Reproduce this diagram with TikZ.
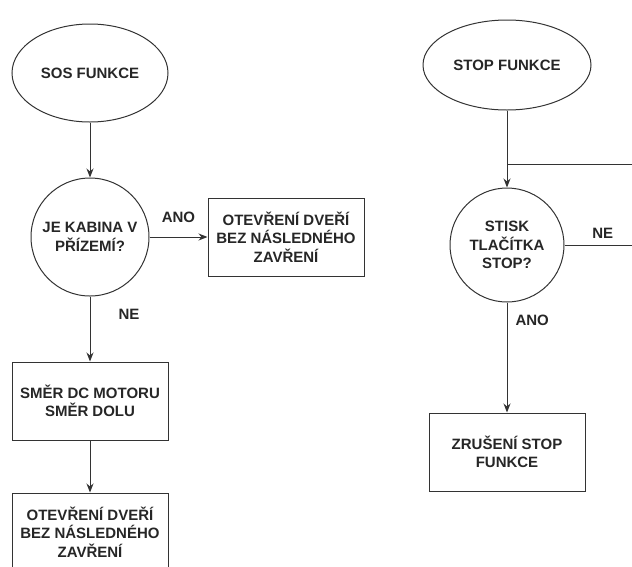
\documentclass[tikz,border=0pt]{standalone}
\usepackage{fontspec}
\setmainfont{Liberation Sans}
\usetikzlibrary{shapes.geometric, arrows.meta, positioning}

\begin{document}
\begin{tikzpicture}[
    x=1pt, y=1pt,
    node distance=50pt,
    every node/.style={font=\fontsize{15}{18.5}\selectfont\bfseries, text=black!85, align=center},
    start/.style={ellipse, draw, minimum width=156pt, minimum height=98pt, inner sep=0pt},
    decision/.style={circle, draw, minimum size=118pt, inner sep=0pt},
    box/.style={rectangle, draw, minimum width=156pt, minimum height=78pt, inner sep=0pt},
    lbl/.style={inner sep=0pt},
    arrow/.style={-{Stealth[length=9pt,width=7pt]}},
    line width=1pt, draw=black!80
  ]
    \useasboundingbox (0,0) rectangle (632,-566);
    % SOS
    \node[start] (sos) at (90,-73) {SOS FUNKCE};
    \node[decision, below=55pt of sos] (kabina) {JE KABINA V\\PŘÍZEMÍ?};
    \node[box, right=58pt of kabina] (dvere) {OTEVŘENÍ DVEŘÍ\\BEZ NÁSLEDNÉHO\\ZAVŘENÍ};
    \node[box, below=65pt of kabina] (motor) {SMĚR DC MOTORU\\SMĚR DOLU};
    \node[box, below=52pt of motor] (dvere2) {OTEVŘENÍ DVEŘÍ\\BEZ NÁSLEDNÉHO\\ZAVŘENÍ};
    \draw[arrow] (sos) -- (kabina);
    \draw[arrow] (kabina) -- node[lbl, above=14pt] {ANO} (dvere);
    \draw[arrow] (kabina) -- node[lbl, pos=0.27, right=28pt] {NE} (motor);
    \draw[arrow] (motor) -- (dvere2);
    % STOP
    \node[start, minimum width=168pt, minimum height=90pt] (stop) at (507,-65) {STOP FUNKCE};
    \node[decision, minimum size=114pt, below=77pt of stop] (stisk) {STISK\\TLAČÍTKA\\STOP?};
    \node[box, below=110pt of stisk] (zruseni) {ZRUŠENÍ STOP\\FUNKCE};
    \coordinate[below=54pt of stop.south] (join);
    \coordinate[right=153pt of join] (ret);
    \draw (stop) -- (join);
    \draw[arrow] (join) -- (stisk);
    \draw (stisk.east) -| node[lbl, pos=0.2, above=6pt] {NE} (ret) -- (join);
    \draw[arrow] (stisk) -- node[lbl, pos=0.16, right=8pt] {ANO} (zruseni);
\end{tikzpicture}
\end{document}
